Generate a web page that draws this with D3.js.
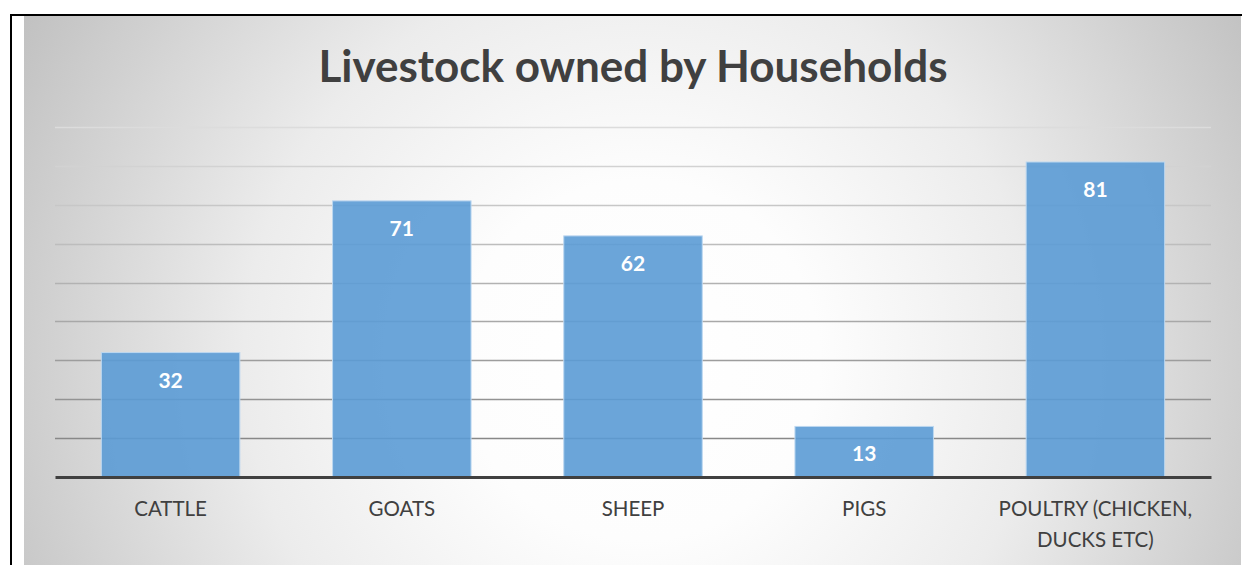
<!DOCTYPE html>
<html>
<head>
<meta charset="utf-8">
<script src="https://cdn.jsdelivr.net/npm/d3@7"></script>
<style>
  html, body { margin: 0; padding: 0; background: #ffffff; }
  svg { display: block; }
</style>
</head>
<body>
<svg id="chart" width="1242" height="565"></svg>
<script>
// Livestock counts per category
const categories = ["CATTLE", "GOATS", "SHEEP", "PIGS", "POULTRY (CHICKEN, DUCKS ETC)"];
const households = [32, 71, 62, 13, 81];
const gridTicks = [10, 20, 30, 40, 50, 60, 70, 80, 90];
const chartTitle = "Livestock owned by Households";

const W = 1242, H = 565;
const svg = d3.select("#chart");
const defs = svg.append("defs");

// radial backdrop: white centre fading to grey edges
const grad = defs.append("radialGradient")
  .attr("id", "bg")
  .attr("gradientUnits", "userSpaceOnUse")
  .attr("cx", 640).attr("cy", 360).attr("r", 720);
[[0, "#ffffff"], [0.25, "#fdfdfd"], [0.55, "#ececec"], [1, "#bfbfbf"]].forEach(([o, c]) =>
  grad.append("stop").attr("offset", o).attr("stop-color", c));

// outer frame
svg.append("rect").attr("x", 24).attr("y", 16).attr("width", 1217).attr("height", H - 16)
  .attr("fill", "url(#bg)");
svg.append("line").attr("x1", 10).attr("x2", 1242).attr("y1", 15).attr("y2", 15)
  .attr("stroke", "#000").attr("stroke-width", 2);
svg.append("line").attr("x1", 11).attr("x2", 11).attr("y1", 14).attr("y2", H)
  .attr("stroke", "#000").attr("stroke-width", 2);

const plot = { left: 55, right: 1211, top: 127, bottom: 477 };

const x = d3.scaleBand().domain(categories)
  .range([plot.left, plot.right]).paddingInner(0.401).paddingOuter(0.2005);
const y = d3.scaleLinear().domain([0, 90]).range([plot.bottom, plot.top]);

// gridlines, darker towards the baseline
const gridColor = d3.scaleLinear().domain([10, 90]).range(["#888888", "#dcdcdc"]);
svg.append("g").selectAll("line").data(gridTicks).join("line")
  .attr("x1", plot.left).attr("x2", plot.right)
  .attr("y1", d => Math.round(y(d)) + 0.5).attr("y2", d => Math.round(y(d)) + 0.5)
  .attr("stroke", d => gridColor(d)).attr("stroke-width", 1.3);

// bars
svg.append("g").selectAll("rect").data(categories).join("rect")
  .attr("x", d => x(d))
  .attr("y", (d, i) => y(households[i]))
  .attr("width", x.bandwidth())
  .attr("height", (d, i) => y(0) - y(households[i]))
  .attr("fill", "#5b9bd5").attr("fill-opacity", 0.9)
  .attr("stroke", "#bcd7f0").attr("stroke-width", 1);

// value labels inside bar tops
svg.append("g").selectAll("text").data(categories).join("text")
  .attr("x", d => x(d) + x.bandwidth() / 2)
  .attr("y", (d, i) => y(households[i]) + 35)
  .attr("text-anchor", "middle")
  .attr("font-family", "Lato, 'Open Sans', sans-serif")
  .attr("font-weight", 700).attr("font-size", 21)
  .attr("fill", "#ffffff")
  .text((d, i) => households[i]);

// category axis
const xAxis = d3.axisBottom(x).tickSize(0).tickPadding(0);
const axisG = svg.append("g").attr("transform", `translate(0,${plot.bottom})`).call(xAxis);
axisG.select(".domain").attr("stroke", "#404040").attr("stroke-width", 3);
axisG.selectAll(".tick text")
  .attr("font-family", "Lato, 'Open Sans', sans-serif")
  .attr("font-size", 20.5).attr("fill", "#404040")
  .attr("y", 39).attr("dy", null)
  .each(function () { wrap(d3.select(this), x.step() - 20); });

function wrap(text, width) {
  const words = text.text().split(/\s+/);
  text.text(null);
  let line = [];
  let n = 0;
  let tspan = text.append("tspan").attr("x", 0).attr("dy", 0);
  words.forEach(w => {
    line.push(w);
    tspan.text(line.join(" "));
    if (tspan.node().getComputedTextLength() > width && line.length > 1) {
      line.pop();
      tspan.text(line.join(" "));
      line = [w];
      n++;
      tspan = text.append("tspan").attr("x", 0).attr("dy", 31).text(w);
    }
  });
}

// title
svg.append("text")
  .attr("x", 633).attr("y", 82)
  .attr("text-anchor", "middle")
  .attr("font-family", "Lato, 'Open Sans', sans-serif")
  .attr("font-weight", 700).attr("font-size", 44)
  .attr("fill", "#404040")
  .text(chartTitle);
</script>
</body>
</html>
